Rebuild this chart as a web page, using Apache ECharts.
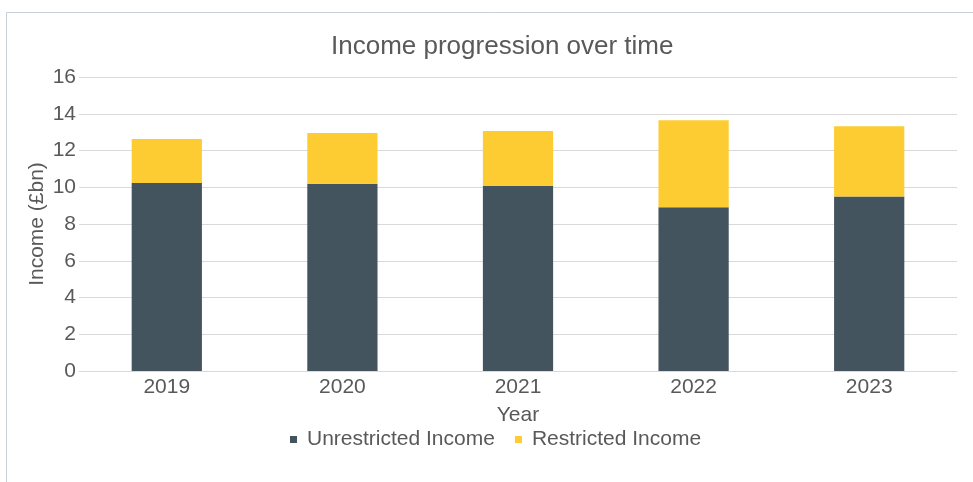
<!DOCTYPE html>
<html><head><meta charset="utf-8">
<script src="https://cdn.jsdelivr.net/npm/echarts@6/dist/echarts.min.js"></script>
<style>html,body{margin:0;padding:0;background:#fff}#c{width:973px;height:482px}</style>
</head><body><div id="c"></div>
<script>
const years = ['2019','2020','2021','2022','2023'];
const unrestricted = [10.23, 10.19, 10.07, 8.91, 9.49];
const restricted = [2.40, 2.76, 2.99, 4.73, 3.83];
const seriesNames = ['Unrestricted Income','Restricted Income'];

const chart = echarts.init(document.getElementById('c'), null, {renderer:'canvas'});
const font = 'Liberation Sans, Arial, sans-serif';
const txt = '#595959';
chart.setOption({
  animation:false,
  backgroundColor:'#fff',
  graphic:[{type:'rect',shape:{x:6.5,y:12.5,width:1000,height:600},style:{fill:'none',stroke:'#C9CFD6',lineWidth:1},silent:true}],
  title:{text:'Income progression over time',left:326,top:29,
    textStyle:{fontFamily:font,fontSize:26,fontWeight:'normal',color:txt}},
  legend:{data:seriesNames,top:424,left:285,itemWidth:7,itemHeight:7,itemGap:20,icon:'rect',
    textStyle:{fontFamily:font,fontSize:21,color:txt,padding:[0,0,0,5]}},
  grid:{left:79,right:16,top:77,bottom:111,containLabel:false},
  xAxis:{type:'category',data:years,name:'Year',nameLocation:'middle',nameGap:34,nameMoveOverlap:false,
    nameTextStyle:{fontFamily:font,fontSize:21,color:txt},
    axisLine:{lineStyle:{color:'#D9D9D9'}},axisTick:{show:false},
    axisLabel:{fontFamily:font,fontSize:21,color:txt,margin:6}},
  yAxis:{type:'value',min:0,max:16,interval:2,name:'Income (£bn)',nameLocation:'middle',nameGap:31,nameMoveOverlap:false,
    nameTextStyle:{fontFamily:font,fontSize:21,color:txt},
    axisLine:{show:false},axisTick:{show:false},
    splitLine:{lineStyle:{color:'#D9D9D9'}},
    axisLabel:{fontFamily:font,fontSize:21,color:txt,margin:3}},
  series:[
    {name:seriesNames[0],type:'bar',stack:'a',data:unrestricted,barWidth:'40%',itemStyle:{color:'#44545F'}},
    {name:seriesNames[1],type:'bar',stack:'a',data:restricted,barWidth:'40%',itemStyle:{color:'#FDCC33'}}
  ]
});
</script></body></html>
